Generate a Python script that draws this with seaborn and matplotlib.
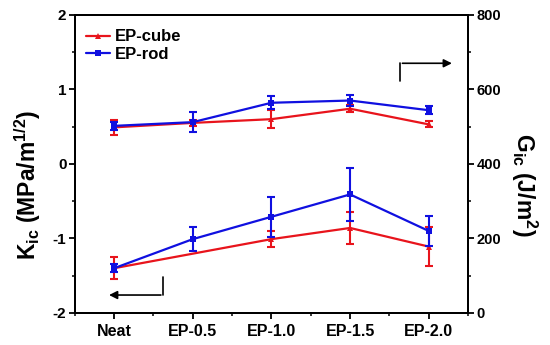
import numpy as np
import pandas as pd
import seaborn as sns
import matplotlib
matplotlib.use("Agg")
import matplotlib.pyplot as plt
from matplotlib.ticker import MultipleLocator

# categorias
amostras = ["Neat", "EP-0.5", "EP-1.0", "EP-1.5", "EP-2.0"]

# curvas de cima (eixo direito, G_ic em J/m^2)
g_cube = [498, 510, 520, 548, 506]
g_cube_err = [20, 8, 24, 10, 8]
g_rod = [502, 512, 564, 570, 544]
g_rod_err = [10, 26, 18, 16, 10]

# curvas de baixo (eixo esquerdo, K_ic)
k_cube_amostras = ["Neat", "EP-1.0", "EP-1.5", "EP-2.0"]
k_cube = [-1.40, -1.01, -0.86, -1.11]
k_cube_err = [0.15, 0.11, 0.22, 0.26]
k_rod = [-1.40, -1.01, -0.71, -0.41, -0.90]
k_rod_err = [0.05, 0.16, 0.27, 0.35, 0.20]

k_ticks = [-2, -1, 0, 1, 2]
g_ticks = [0, 200, 400, 600, 800]

VERMELHO = "#e8141c"
AZUL = "#1010e0"

sns.set_theme(style="ticks")
plt.rcParams["font.family"] = ["Liberation Sans", "DejaVu Sans"]
plt.rcParams["font.weight"] = "bold"
plt.rcParams["mathtext.fontset"] = "custom"
plt.rcParams["mathtext.rm"] = "Liberation Sans:bold"
plt.rcParams["mathtext.it"] = "Liberation Sans:bold"
plt.rcParams["mathtext.bf"] = "Liberation Sans:bold"
plt.rcParams["mathtext.default"] = "rm"
for chave in ["text.color", "axes.labelcolor", "xtick.color", "ytick.color", "axes.edgecolor"]:
    plt.rcParams[chave] = "black"

pos = {a: i for i, a in enumerate(amostras)}

fig, ax = plt.subplots(figsize=(5.5, 3.45), dpi=100)
fig.subplots_adjust(left=0.136, right=0.851, top=0.957, bottom=0.093)
ax2 = ax.twinx()

df_kc = pd.DataFrame({"x": [pos[a] for a in k_cube_amostras], "y": k_cube, "e": k_cube_err})
df_kr = pd.DataFrame({"x": [pos[a] for a in amostras], "y": k_rod, "e": k_rod_err})
df_gc = pd.DataFrame({"x": [pos[a] for a in amostras], "y": g_cube, "e": g_cube_err})
df_gr = pd.DataFrame({"x": [pos[a] for a in amostras], "y": g_rod, "e": g_rod_err})

estilo = dict(lw=1.6, markersize=5, markeredgewidth=0)

for d, eixo, cor, mk, rot in [
    (df_kc, ax, VERMELHO, "^", None),
    (df_kr, ax, AZUL, "s", None),
    (df_gc, ax2, VERMELHO, "^", "EP-cube"),
    (df_gr, ax2, AZUL, "s", "EP-rod"),
]:
    sns.lineplot(data=d, x="x", y="y", color=cor, marker=mk, ax=eixo,
                 label=rot, legend=False, **estilo)
    eixo.errorbar(d["x"], d["y"], yerr=d["e"], fmt="none", ecolor=cor,
                  elinewidth=1.5, capsize=3, capthick=1.5)

ax.set_xlim(-0.5, 4.5)
ax.set_xticks(range(len(amostras)))
ax.set_xticklabels(amostras, fontsize=11.5, fontweight="bold")
ax.xaxis.set_minor_locator(MultipleLocator(0.5))
ax.set_yticks(k_ticks)
ax.set_yticklabels([str(v) for v in k_ticks], fontsize=11, fontweight="bold")
ax.yaxis.set_minor_locator(MultipleLocator(0.5))
ax2.set_yticks(g_ticks)
ax2.set_yticklabels([str(v) for v in g_ticks], fontsize=10.5, fontweight="bold")
ax2.yaxis.set_minor_locator(MultipleLocator(100))
ax.set_ylim(-2, 2)
ax2.set_ylim(0, 800)

for eixo in (ax, ax2):
    eixo.tick_params(which="major", length=4, width=1.3, direction="out", pad=2)
    eixo.tick_params(which="minor", length=2.5, width=1.1, direction="out")
    for s in eixo.spines.values():
        s.set_linewidth(1.4)
        s.set_color("black")
ax.tick_params(axis="x", which="both", top=False)
ax.tick_params(axis="x", pad=4)

ax.set_xlabel("")
ax.set_ylabel(r"K$_{ic}$ (MPa/m$^{1/2}$)", fontsize=16.5, fontweight="bold")
ax.yaxis.set_label_coords(-0.08, 0.43)
ax2.set_ylabel(r"G$_{ic}$ (J/m$^{2}$)", fontsize=16.5, fontweight="bold",
               rotation=270, va="bottom")
ax2.yaxis.set_label_coords(1.105, 0.43)

h, l = ax2.get_legend_handles_labels()
ax.legend(h, l, loc="upper left", frameon=False,
          prop={"weight": "bold", "size": 12}, handlelength=1.4,
          handletextpad=0.3, labelspacing=0.15, borderaxespad=0.3,
          bbox_to_anchor=(0.0, 0.99))

# setas indicando o eixo
ax.plot([0.62, 0.62], [-1.52, -1.76], color="black", lw=1.2)
ax.annotate("", xy=(-0.1, -1.76), xytext=(0.63, -1.76),
            arrowprops=dict(arrowstyle="-|>", color="black", lw=1.2,
                            mutation_scale=12))
ax.plot([3.64, 3.64], [1.11, 1.35], color="black", lw=1.2)
ax.annotate("", xy=(4.33, 1.35), xytext=(3.63, 1.35),
            arrowprops=dict(arrowstyle="-|>", color="black", lw=1.2,
                            mutation_scale=12))

fig.savefig("out.png", dpi=100)
plt.close(fig)
